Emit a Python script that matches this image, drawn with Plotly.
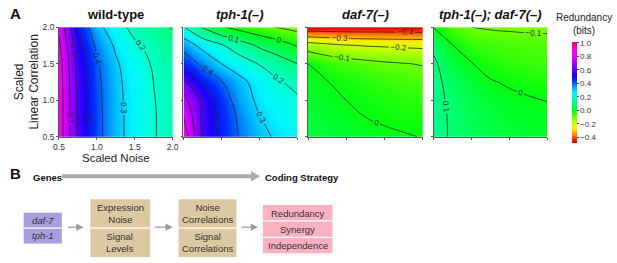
import plotly.graph_objects as go

W, H = 617, 263

# ---------------- data ----------------
noise = [0.5, 0.75, 1.0, 1.25, 1.5, 1.75, 2.0]
corr = [0.5, 0.75, 1.0, 1.25, 1.5, 1.75, 2.0]

wild_type = [
    [0.860, 0.585, 0.430, 0.330, 0.260, 0.205, 0.170],
    [0.860, 0.585, 0.430, 0.330, 0.260, 0.205, 0.170],
    [0.858, 0.582, 0.427, 0.327, 0.257, 0.203, 0.168],
    [0.854, 0.577, 0.422, 0.323, 0.253, 0.199, 0.164],
    [0.844, 0.566, 0.410, 0.312, 0.242, 0.190, 0.155],
    [0.820, 0.538, 0.380, 0.285, 0.215, 0.168, 0.133],
    [0.780, 0.490, 0.330, 0.240, 0.170, 0.130, 0.095],
]
tph1 = [
    [0.870, 0.585, 0.480, 0.390, 0.325, 0.285, 0.255],
    [0.810, 0.580, 0.470, 0.380, 0.305, 0.265, 0.235],
    [0.735, 0.575, 0.455, 0.350, 0.280, 0.245, 0.215],
    [0.625, 0.485, 0.405, 0.325, 0.260, 0.210, 0.170],
    [0.470, 0.380, 0.300, 0.245, 0.195, 0.145, 0.100],
    [0.360, 0.270, 0.210, 0.145, 0.085, 0.045, -0.005],
    [0.210, 0.090, 0.010, -0.035, -0.070, -0.105, -0.130],
]
daf7 = [
    [0.045, 0.035, 0.030, 0.020, 0.012, 0.005, -0.002],
    [0.040, 0.030, 0.015, 0.001, -0.008, -0.015, -0.020],
    [0.030, 0.015, 0.000, -0.012, -0.022, -0.032, -0.040],
    [0.020, 0.002, -0.015, -0.030, -0.045, -0.055, -0.065],
    [0.000, -0.040, -0.060, -0.075, -0.088, -0.097, -0.105],
    [-0.150, -0.175, -0.195, -0.205, -0.210, -0.215, -0.220],
    [-0.470, -0.470, -0.470, -0.470, -0.470, -0.470, -0.470],
]
tph1_daf7 = [
    [0.127, 0.090, 0.070, 0.055, 0.040, 0.030, 0.022],
    [0.125, 0.090, 0.065, 0.045, 0.030, 0.020, 0.012],
    [0.123, 0.085, 0.055, 0.030, 0.015, 0.006, -0.001],
    [0.120, 0.075, 0.035, 0.005, -0.008, -0.018, -0.025],
    [0.115, 0.045, 0.003, -0.025, -0.040, -0.048, -0.052],
    [0.085, 0.002, -0.045, -0.055, -0.062, -0.067, -0.070],
    [-0.002, -0.070, -0.100, -0.108, -0.112, -0.115, -0.117],
]

panel_titles = ["<b>wild-type</b>", "<b><i>tph-1(–)</i></b>",
                "<b><i>daf-7(–)</i></b>", "<b><i>tph-1(–); daf-7(–)</i></b>"]
axis_ticks = [0.5, 1.0, 1.5, 2.0]
axis_ticktext = ["0.5", "1.0", "1.5", "2.0"]
cbar_ticks = [-0.4, -0.2, 0.0, 0.2, 0.4, 0.6, 0.8, 1.0]
cbar_ticktext = ["−0.4", "−0.2", "0.0", "0.2", "0.4", "0.6", "0.8", "1.0"]

genes = ["daf-7", "tph-1"]
stage1 = ["Expression<br>Noise", "Signal<br>Levels"]
stage2 = ["Noise<br>Correlations", "Signal<br>Correlations"]
strategies = ["Redundancy", "Synergy", "Independence"]

# ---------------- style ----------------
FONT = "Liberation Sans, Arial, sans-serif"
ZMIN, ZMAX = -0.48, 1.02
stops = [(-0.48, "#B80000"), (-0.43, "#FF2000"), (-0.35, "#FF9000"),
         (-0.27, "#FFEE00"), (-0.20, "#D0FF00"), (-0.10, "#70FF00"),
         (0.00, "#00FF10"), (0.10, "#00FF78"), (0.16, "#00FFA8"),
         (0.22, "#00FFE0"), (0.27, "#00F4FF"), (0.35, "#00A8FF"),
         (0.45, "#0030FF"), (0.53, "#1800FF"), (0.65, "#8800FF"),
         (0.78, "#DC00FF"), (0.90, "#FF00EE"), (1.02, "#FF0050")]
cscale = [[(v - ZMIN) / (ZMAX - ZMIN), c] for v, c in stops]


def X(px):
    return px / W


def Y(py):
    return 1 - py / H


fig = go.Figure()
panel_px = [(54, 170), (181, 297), (308, 425), (436, 552)]
ytop, ybot = 23, 137
datasets = [wild_type, tph1, daf7, tph1_daf7]

for i, (zz, (x0, x1)) in enumerate(zip(datasets, panel_px)):
    sfx = "" if i == 0 else str(i + 1)
    fig.add_trace(go.Contour(
        x=noise, y=corr, z=zz, xaxis="x" + sfx, yaxis="y" + sfx,
        colorscale=cscale, zmin=ZMIN, zmax=ZMAX, showscale=False,
        contours=dict(start=-0.4, end=0.9, size=0.1, coloring="heatmap",
                      showlabels=True,
                      labelfont=dict(size=8, color="#1c2a22", family=FONT)),
        line=dict(color="#1c2a22", width=0.8, smoothing=1.3),
        hoverinfo="skip",
    ))
    first = i == 0
    common = dict(range=[0.5, 2.0], tickvals=axis_ticks, ticktext=axis_ticktext,
                  showticklabels=first, ticks="outside", ticklen=2,
                  tickwidth=0.8, tickcolor="#555",
                  tickfont=dict(size=8.5, color="#333", family=FONT),
                  showgrid=False, zeroline=False, showline=True,
                  linecolor="#555", linewidth=0.6)
    fig.layout["xaxis" + sfx] = dict(domain=[X(x0), X(x1)], anchor="y" + sfx,
                                     **common)
    fig.layout["yaxis" + sfx] = dict(domain=[Y(ybot), Y(ytop)], anchor="x" + sfx,
                                     **common)

# colourbar
fig.add_trace(go.Scatter(
    x=[None], y=[None], mode="markers", showlegend=False, hoverinfo="skip",
    marker=dict(colorscale=cscale, cmin=ZMIN, cmax=ZMAX, color=[0],
                showscale=True,
                colorbar=dict(x=X(577), xanchor="left", y=Y(90.5),
                              yanchor="middle", len=105 / H, lenmode="fraction",
                              thickness=5, thicknessmode="pixels",
                              outlinewidth=0, xpad=0, ypad=0,
                              ticks="outside", ticklen=2, tickwidth=0.8,
                              tickcolor="#444", tickvals=cbar_ticks,
                              ticktext=cbar_ticktext,
                              tickfont=dict(size=8, color="#333", family=FONT))),
))

ann = []


def text(px, py, s, size, xanchor="center", angle=0, color="#222"):
    ann.append(dict(x=X(px), y=Y(py), xref="paper", yref="paper", text=s,
                    showarrow=False, xanchor=xanchor, yanchor="middle",
                    textangle=angle,
                    font=dict(size=size, color=color, family=FONT)))


text(2, 9, "<b>A</b>", 15, xanchor="left", color="#111")
text(2, 175, "<b>B</b>", 15, xanchor="left", color="#111")
for (x0, x1), t in zip(panel_px, panel_titles):
    text((x0 + x1) / 2, 10, t, 13, color="#111")
text(112, 159.5, "Scaled Noise", 11.5)
text(21, 80, "Scaled<br>Linear Correlation", 12, angle=-90)
text(589, 20, "Redundancy<br>(bits)", 10)

# panel B
text(25, 179, "<b>Genes</b>", 9.5, xanchor="left", color="#111")
text(262, 179, "<b>Coding Strategy</b>", 9.5, xanchor="left", color="#111")

shapes = []


def rect(x0, y0, x1, y1, color):
    shapes.append(dict(type="rect", xref="paper", yref="paper",
                       x0=X(x0), x1=X(x1), y0=Y(y1), y1=Y(y0),
                       fillcolor=color, line=dict(width=0), layer="below"))


def hline(x0, x1, y, color, width):
    shapes.append(dict(type="line", xref="paper", yref="paper",
                       x0=X(x0), x1=X(x1), y0=Y(y), y1=Y(y),
                       line=dict(color=color, width=width)))


# big arrow
hline(57, 251, 178, "#ABABAB", 4)
shapes.append(dict(type="path", xref="paper", yref="paper",
                   path=f"M {X(250)} {Y(172.5)} L {X(259)} {Y(178)} L {X(250)} {Y(183.5)} Z",
                   fillcolor="#ABABAB", line=dict(width=0)))

# boxes
rect(18, 216, 57, 248, "#A89EDD")
hline(18, 57, 232, "white", 1.2)
rect(86, 202, 147, 262, "#DCC9A1")
hline(86, 147, 232, "white", 1.2)
rect(176, 202, 235, 262, "#DCC9A1")
hline(176, 235, 232, "white", 1.2)
rect(262, 208, 333, 258, "#FBB1C2")
hline(262, 333, 224.5, "white", 1.2)
hline(262, 333, 241.5, "white", 1.2)

for g, py in zip(genes, [224, 240]):
    text(37.5, py, f"<i>{g}</i>", 9.5, color="#333")
for s, py in zip(stage1, [217, 247]):
    text(116.5, py, s, 9.5, color="#333")
for s, py in zip(stage2, [217, 247]):
    text(205.5, py, s, 9.5, color="#333")
for s, py in zip(strategies, [216.5, 233, 250]):
    text(297.5, py, s, 9.5, color="#333")

# small arrows
for tail, tip in [(62, 79), (151, 170), (239, 257)]:
    ann.append(dict(x=X(tip), y=Y(231), xref="paper", yref="paper",
                    ax=tail - tip, ay=0, axref="pixel", ayref="pixel",
                    text="", showarrow=True, arrowhead=2, arrowsize=1.2,
                    arrowwidth=1.2, arrowcolor="#9A9A9A"))

fig.update_layout(
    width=W, height=H, margin=dict(l=0, r=0, t=0, b=0),
    paper_bgcolor="white", plot_bgcolor="white",
    annotations=ann, shapes=shapes, showlegend=False,
    font=dict(family=FONT),
)

fig.write_html("out.html", config={"displayModeBar": False},
               post_script="document.body.style.margin='0';")
